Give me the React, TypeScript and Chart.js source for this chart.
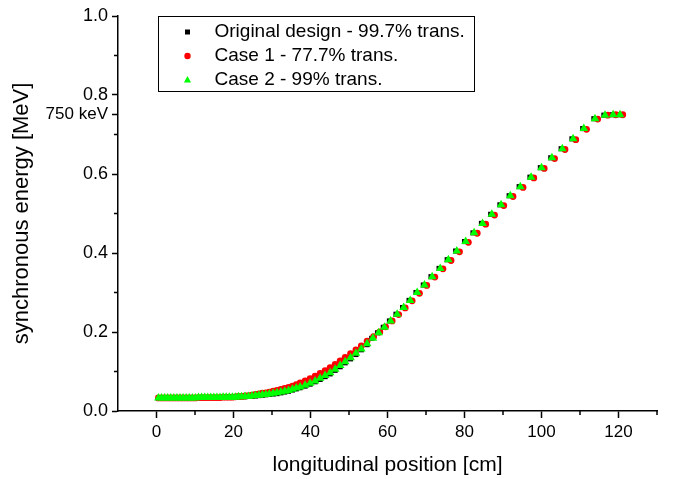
import React, { useEffect, useRef } from 'react';
import { Chart, registerables } from 'chart.js';

Chart.register(...registerables);

const FONT = '"Liberation Sans", Arial, sans-serif';

const seriesLabels = ['Original design - 99.7% trans.', 'Case 1 - 77.7% trans.', 'Case 2 - 99% trans.'];
const seriesColors = ['#000000', '#ff0000', '#00ff00'];
const seriesStyles = ['rect', 'circle', 'triangle'];

const designPos = [
  0.5, 1.3, 2.1, 2.9, 3.7, 4.5, 5.3, 6.1, 6.9, 7.7, 8.5, 9.3, 10.1, 10.9, 11.7, 12.5, 13.3, 14.1, 14.9, 15.7, 16.5, 17.3, 18.1, 18.9, 19.7,
  20.5, 21.3, 22.1, 23.0, 23.9, 24.8, 25.7, 26.6, 27.5, 28.4, 29.3, 30.3, 31.3, 32.3, 33.3, 34.3, 35.3, 36.3,
  37.3, 38.6, 39.9, 41.2, 42.5, 43.8, 45.1, 46.4, 47.7, 49.0, 50.4, 51.8, 53.2, 54.7,
  55.9, 57.4, 58.9, 60.5, 62.2, 63.9, 65.6, 67.4, 69.3, 71.3, 73.4, 75.5, 77.7, 80.0, 82.2, 84.4,
  86.8, 89.2, 91.6, 94.2, 97.0, 99.7, 102.4, 105.1, 107.9, 110.7, 113.6, 116.2, 118.3, 120.1,
];
const designEnergy = [
  0.033, 0.033, 0.033, 0.033, 0.033, 0.033, 0.033, 0.033, 0.033, 0.033, 0.033, 0.033, 0.033, 0.034, 0.034, 0.034, 0.034, 0.034, 0.034, 0.034, 0.034, 0.035, 0.035, 0.035, 0.035,
  0.035, 0.035, 0.036, 0.036, 0.037, 0.037, 0.038, 0.039, 0.040, 0.041, 0.042, 0.043, 0.044, 0.046, 0.048, 0.050, 0.053, 0.056,
  0.059, 0.063, 0.068, 0.074, 0.080, 0.087, 0.094, 0.103, 0.112, 0.122, 0.132, 0.143, 0.155, 0.168,
  0.184, 0.198, 0.212, 0.228, 0.245, 0.262, 0.280, 0.300, 0.319, 0.340, 0.361, 0.383, 0.405, 0.429, 0.451, 0.475,
  0.498, 0.522, 0.545, 0.568, 0.592, 0.616, 0.641, 0.664, 0.689, 0.715, 0.740, 0.749, 0.750, 0.750,
];

const case1Pos = [
  0.5, 1.3, 2.1, 2.9, 3.7, 4.5, 5.3, 6.1, 6.9, 7.7, 8.5, 9.3, 10.1, 10.9, 11.7, 12.5, 13.3, 14.1, 14.9, 15.7, 16.5, 17.3, 18.1, 18.9, 19.7,
  20.5, 21.3, 22.1, 23.0, 23.9, 24.8, 25.7, 26.6, 27.5, 28.4, 29.3, 30.3, 31.3, 32.3, 33.3, 34.3, 35.3, 36.3,
  37.3, 38.6, 39.9, 41.2, 42.5, 43.8, 45.1, 46.4, 47.7, 49.0, 50.4, 51.8, 53.2, 54.7,
  56.4, 58.0, 59.5, 61.2, 62.9, 64.6, 66.4, 68.3, 70.2, 72.3, 74.4, 76.5, 78.7, 81.0, 83.3, 85.5,
  87.8, 90.2, 92.6, 95.2, 98.0, 100.7, 103.4, 106.1, 108.9, 111.7, 114.6, 117.2, 119.3, 121.1,
];
const case1Energy = [
  0.033, 0.033, 0.033, 0.033, 0.033, 0.033, 0.033, 0.033, 0.033, 0.033, 0.033, 0.033, 0.033, 0.034, 0.034, 0.034, 0.034, 0.034, 0.034, 0.034, 0.034, 0.035, 0.035, 0.035, 0.035,
  0.036, 0.037, 0.037, 0.038, 0.039, 0.040, 0.042, 0.043, 0.045, 0.046, 0.048, 0.050, 0.052, 0.055, 0.057, 0.060, 0.063, 0.067,
  0.071, 0.076, 0.082, 0.088, 0.095, 0.102, 0.110, 0.118, 0.127, 0.136, 0.145, 0.155, 0.165, 0.177,
  0.188, 0.200, 0.213, 0.228, 0.244, 0.261, 0.279, 0.298, 0.318, 0.339, 0.360, 0.381, 0.403, 0.427, 0.450, 0.473,
  0.496, 0.520, 0.543, 0.566, 0.590, 0.614, 0.639, 0.662, 0.687, 0.713, 0.739, 0.749, 0.750, 0.750,
];

const case2Pos = [
  0.5, 1.3, 2.1, 2.9, 3.7, 4.5, 5.3, 6.1, 6.9, 7.7, 8.5, 9.3, 10.1, 10.9, 11.7, 12.5, 13.3, 14.1, 14.9, 15.7, 16.5, 17.3, 18.1, 18.9, 19.7,
  20.5, 21.3, 22.1, 23.0, 23.9, 24.8, 25.7, 26.6, 27.5, 28.4, 29.3, 30.3, 31.3, 32.3, 33.3, 34.3, 35.3, 36.3,
  37.3, 38.6, 39.9, 41.2, 42.5, 43.8, 45.1, 46.4, 47.7, 49.0, 50.4, 51.8, 53.2, 54.7,
  56.2, 57.7, 59.2, 60.8, 62.5, 64.2, 65.9, 67.7, 69.6, 71.6, 73.7, 75.8, 78.0, 80.3, 82.5, 84.7,
  87.1, 89.5, 91.9, 94.5, 97.3, 100.0, 102.7, 105.4, 108.2, 111.0, 113.9, 116.5, 118.6, 120.4,
];
const case2Energy = [
  0.033, 0.033, 0.033, 0.033, 0.033, 0.033, 0.033, 0.033, 0.033, 0.033, 0.033, 0.033, 0.033, 0.034, 0.034, 0.034, 0.034, 0.034, 0.034, 0.034, 0.034, 0.035, 0.035, 0.035, 0.035,
  0.035, 0.036, 0.036, 0.037, 0.037, 0.038, 0.039, 0.040, 0.041, 0.042, 0.043, 0.045, 0.046, 0.048, 0.050, 0.052, 0.055, 0.058,
  0.061, 0.065, 0.070, 0.076, 0.083, 0.090, 0.097, 0.106, 0.115, 0.125, 0.135, 0.146, 0.157, 0.170,
  0.184, 0.198, 0.212, 0.228, 0.245, 0.262, 0.280, 0.300, 0.319, 0.340, 0.361, 0.383, 0.405, 0.429, 0.451, 0.475,
  0.498, 0.522, 0.545, 0.568, 0.592, 0.616, 0.641, 0.664, 0.689, 0.715, 0.740, 0.749, 0.750, 0.750,
];

const xMajorTicks = [0, 20, 40, 60, 80, 100, 120];
const xMinorTicks = [10, 30, 50, 70, 90, 110, 130];
const yMajorTicks = [0, 0.2, 0.4, 0.6, 0.8, 1.0];
const yMinorTicks = [0.1, 0.3, 0.5, 0.7, 0.9];
const yMarkTicks = [0.75];
const yMarkLabels = ['750 keV'];

const toPoints = (xs: number[], ys: number[]) => xs.map((x, i) => ({ x, y: ys[i] }));

const minorTickPlugin = {
  id: 'minorTicks',
  afterDraw(chart: any) {
    const { ctx, chartArea, scales } = chart;
    ctx.save();
    ctx.strokeStyle = '#000';
    ctx.lineWidth = 1.5;
    ctx.beginPath();
    xMinorTicks.forEach((v) => {
      const px = scales.x.getPixelForValue(v);
      ctx.moveTo(px, chartArea.bottom);
      ctx.lineTo(px, chartArea.bottom + 4);
    });
    yMinorTicks.forEach((v) => {
      const py = scales.y.getPixelForValue(v);
      ctx.moveTo(chartArea.left, py);
      ctx.lineTo(chartArea.left - 4, py);
    });
    ctx.stroke();
    ctx.restore();
  },
};

const legendPlugin = {
  id: 'insideLegend',
  afterDraw(chart: any) {
    const { ctx, chartArea } = chart;
    const left = chartArea.left + 40.5;
    const top = chartArea.top + 0.5;
    const width = 316;
    const height = 75;
    ctx.save();
    ctx.fillStyle = '#ffffff';
    ctx.fillRect(left, top, width, height);
    ctx.strokeStyle = '#000';
    ctx.lineWidth = 1;
    ctx.strokeRect(left, top, width, height);
    ctx.font = `19px ${FONT}`;
    ctx.textBaseline = 'middle';
    chart.data.datasets.forEach((ds: any, i: number) => {
      const cy = top + 15.5 + i * 24;
      const mx = left + 29;
      ctx.fillStyle = ds.pointBackgroundColor;
      ctx.beginPath();
      if (ds.pointStyle === 'rect') {
        ctx.rect(mx - 2.5, cy - 2.5, 5, 5);
      } else if (ds.pointStyle === 'circle') {
        ctx.arc(mx, cy, 3.2, 0, Math.PI * 2);
      } else {
        ctx.moveTo(mx, cy - 4);
        ctx.lineTo(mx + 3.6, cy + 2.6);
        ctx.lineTo(mx - 3.6, cy + 2.6);
        ctx.closePath();
      }
      ctx.fill();
      ctx.fillStyle = '#000';
      ctx.fillText(ds.label, left + 56, cy);
    });
    ctx.restore();
  },
};

export default function App() {
  const canvasRef = useRef<HTMLCanvasElement | null>(null);

  useEffect(() => {
    if (!canvasRef.current) return;
    const series = [
      toPoints(designPos, designEnergy),
      toPoints(case1Pos, case1Energy),
      toPoints(case2Pos, case2Energy),
    ];
    const radii = [3.6, 3.4, 5];
    const drawOrder = [3, 2, 1];
    const chart = new Chart(canvasRef.current, {
      type: 'scatter',
      data: {
        datasets: series.map((pts, i) => ({
          label: seriesLabels[i],
          data: pts,
          pointStyle: seriesStyles[i] as any,
          pointRadius: radii[i],
          pointHoverRadius: radii[i],
          pointBackgroundColor: seriesColors[i],
          pointBorderColor: seriesColors[i],
          pointBorderWidth: 0,
          showLine: false,
          order: drawOrder[i],
        })),
      },
      options: {
        animation: false,
        responsive: true,
        maintainAspectRatio: false,
        layout: { padding: { top: 16, right: 16, left: 0, bottom: 0 } },
        plugins: {
          legend: { display: false },
          tooltip: { enabled: false },
        },
        scales: {
          x: {
            type: 'linear',
            min: -10,
            max: 130,
            afterBuildTicks: (s: any) => {
              s.ticks = xMajorTicks.map((v) => ({ value: v }));
            },
            afterFit: (s: any) => {
              s.height = 68;
            },
            ticks: {
              autoSkip: false,
              maxRotation: 0,
              color: '#000',
              padding: 4,
              font: { family: FONT, size: 17 },
              callback: (v: any) => String(v),
            },
            grid: {
              display: true,
              drawOnChartArea: false,
              drawTicks: true,
              tickLength: 7,
              tickWidth: 1.5,
              tickColor: '#000',
            },
            border: { display: true, color: '#000', width: 1.5 },
            title: {
              display: true,
              text: 'longitudinal position [cm]',
              color: '#000',
              font: { family: FONT, size: 21 },
              padding: { top: 0, bottom: 1 },
            },
          },
          y: {
            type: 'linear',
            min: 0,
            max: 1,
            afterBuildTicks: (s: any) => {
              s.ticks = [...yMajorTicks, ...yMarkTicks]
                .sort((a, b) => a - b)
                .map((v) => ({ value: v }));
            },
            afterFit: (s: any) => {
              s.width = 118;
            },
            ticks: {
              autoSkip: false,
              color: '#000',
              padding: 4,
              font: (c: any) => ({
                family: FONT,
                size: c.tick && yMarkTicks.includes(c.tick.value) ? 17 : 18,
              }),
              callback: (v: any) => {
                const k = yMarkTicks.indexOf(Number(v));
                return k >= 0 ? yMarkLabels[k] : Number(v).toFixed(1);
              },
            },
            grid: {
              display: true,
              drawOnChartArea: false,
              drawTicks: true,
              tickLength: 6,
              tickWidth: 1.5,
              tickColor: '#000',
            },
            border: { display: true, color: '#000', width: 1.5 },
            title: {
              display: true,
              text: 'synchronous energy [MeV]',
              color: '#000',
              font: { family: FONT, size: 22 },
              padding: { top: 9, bottom: 0 },
            },
          },
        },
      },
      plugins: [minorTickPlugin, legendPlugin],
    });
    return () => chart.destroy();
  }, []);

  return (
    <div style={{ position: 'fixed', left: 0, top: 0, width: 673, height: 479, background: '#fff' }}>
      <canvas ref={canvasRef} />
    </div>
  );
}
